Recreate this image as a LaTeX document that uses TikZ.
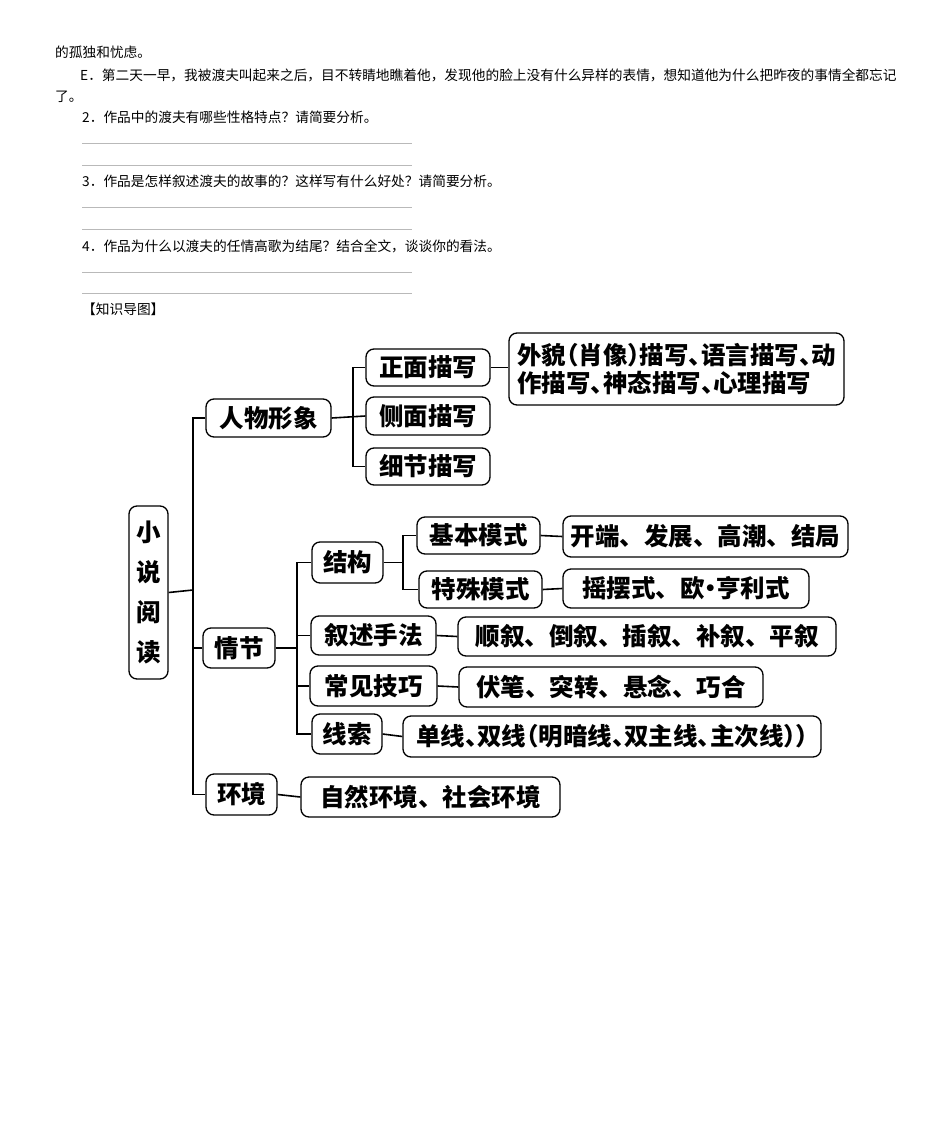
\documentclass[tikz,border=0pt]{standalone}
\usepackage{fontspec}
\setmainfont{Noto Sans CJK SC}
\newfontfamily\halffont{Noto Sans CJK SC}[RawFeature=+halt]
\usepackage{tikz}

\begin{document}
\begin{tikzpicture}[x=1pt, y=-1pt,
  box/.style={draw, rounded corners=8pt, line width=1.3pt, inner sep=0pt,
              text centered, align=center,
              font=\fontsize{24.5}{28}\selectfont\bfseries},
  link/.style={line width=1.6pt},
  blank/.style={gray!55, line width=0.8pt},
  body/.style={anchor=west, inner sep=0pt, font=\fontsize{13.7}{16}\selectfont}
]
\useasboundingbox (0,0) rectangle (950,1140);

% ── Text above the map ──
\node[body] (p1) at (55, 52) {的孤独和忧虑。};
\node[body] (p2) at (80, 75) {E．第二天一早，我被渡夫叫起来之后，目不转睛地瞧着他，发现他的脸上没有什么异样的表情，想知道他为什么把昨夜的事情全都忘记};
\node[body] (p3) at (55, 97) {了。};
\node[body] (q2) at (82, 117) {2．作品中的渡夫有哪些性格特点？请简要分析。};
\node[body] (q3) at (82, 181) {3．作品是怎样叙述渡夫的故事的？这样写有什么好处？请简要分析。};
\node[body] (q4) at (82, 246) {4．作品为什么以渡夫的任情高歌为结尾？结合全文，谈谈你的看法。};
\node[body] (title) at (82, 309) {【知识导图】};

% ── Answer lines ──
\foreach \yy in {143, 165, 207, 229, 272, 293}
  \draw[blank] (82, \yy) -- (412, \yy);

% ── Root ──
\node[box, minimum width=39pt, minimum height=173pt,
      font=\fontsize{24.5}{40}\selectfont\bfseries] (root) at (148.5, 592.5)
     {小\\说\\阅\\读};

% ── Level 1 ──
\node[box, minimum width=125pt, minimum height=38pt] (renwu)    at (268.5, 418) {人物形象};
\node[box, minimum width=72pt,  minimum height=40pt] (qingjie)  at (239, 648)   {情节};
\node[box, minimum width=71pt,  minimum height=41pt] (huanjing) at (241.5, 794.5) {环境};

% ── 人物形象 branch ──
\node[box, minimum width=124pt, minimum height=37pt] (zhengmian) at (428, 367.5) {正面描写};
\node[box, minimum width=124pt, minimum height=38pt] (cemian)    at (428, 416)   {侧面描写};
\node[box, minimum width=124pt, minimum height=37pt] (xijie)     at (428, 466.5) {细节描写};
\node[box, minimum width=335pt, minimum height=72pt, align=left,
      font=\fontsize{24.5}{28}\selectfont\bfseries\halffont] (waimao) at (676.5, 369)
     {外貌（肖像）描写、语言描写、动\\作描写、神态描写、心理描写};

% ── 情节 branch ──
\node[box, minimum width=71pt,  minimum height=41pt] (jiegou)  at (347.5, 562.5) {结构};
\node[box, minimum width=123pt, minimum height=37pt] (jiben)   at (478.5, 535.5) {基本模式};
\node[box, minimum width=123pt, minimum height=37pt] (teshu)   at (480.5, 589.5) {特殊模式};
\node[box, minimum width=285pt, minimum height=41pt] (kaiduan) at (705.5, 536.5) {开端、发展、高潮、结局};
\node[box, minimum width=246pt, minimum height=39pt] (yaobai)  at (686, 588.5)   {摇摆式、欧\makebox[0.45em]{·}亨利式};
\node[box, minimum width=125pt, minimum height=39pt] (xushu)   at (373.5, 635.5) {叙述手法};
\node[box, minimum width=378pt, minimum height=39pt] (shunxu)  at (647, 636.5)   {顺叙、倒叙、插叙、补叙、平叙};
\node[box, minimum width=127pt, minimum height=40pt] (jiqiao)  at (373.5, 686)   {常见技巧};
\node[box, minimum width=304pt, minimum height=40pt] (fubi)    at (611, 687)     {伏笔、突转、悬念、巧合};
\node[box, minimum width=70pt,  minimum height=40pt] (xiansuo) at (347, 734)     {线索};
\node[box, minimum width=418pt, minimum height=41pt,
      font=\fontsize{24.5}{28}\selectfont\bfseries\halffont] (danxian) at (612, 736.5)
     {单线、双线（明暗线、双主线、主次线））};

% ── 环境 branch ──
\node[box, minimum width=259pt, minimum height=40pt] (ziran) at (430.5, 797) {自然环境、社会环境};

% ── Junctions ──
\coordinate (t1) at (193, 590);
\coordinate (b1) at (353, 416);
\coordinate (b2) at (297, 648);
\coordinate (b3) at (403, 562.5);

% ── Trunk ──
\draw[link] (renwu.west) -| (t1) |- (huanjing.west);
\draw[link] (root.east) -- (t1);
\draw[link] (qingjie.west) -- (qingjie.west -| t1);

% ── 人物形象 links ──
\draw[link] (zhengmian.west) -| (b1) |- (xijie.west);
\draw[link] (renwu.east) -- (cemian.west);
\draw[link] (zhengmian.east) -- (waimao.west |- zhengmian.east);

% ── 情节 links ──
\draw[link] (jiegou.west) -| (b2) |- (xiansuo.west);
\draw[link] (qingjie.east) -- (b2);
\draw[link] (xushu.west) -- (xushu.west -| b2);
\draw[link] (jiqiao.west) -- (jiqiao.west -| b2);
\draw[link] (jiben.west) -| (b3) |- (teshu.west);
\draw[link] (jiegou.east) -- (b3);
\draw[link] (jiben.east) -- (kaiduan.west);
\draw[link] (teshu.east) -- (yaobai.west);
\draw[link] (xushu.east) -- (shunxu.west);
\draw[link] (jiqiao.east) -- (fubi.west);
\draw[link] (xiansuo.east) -- (danxian.west);

% ── 环境 link ──
\draw[link] (huanjing.east) -- (ziran.west);

\end{tikzpicture}
\end{document}
